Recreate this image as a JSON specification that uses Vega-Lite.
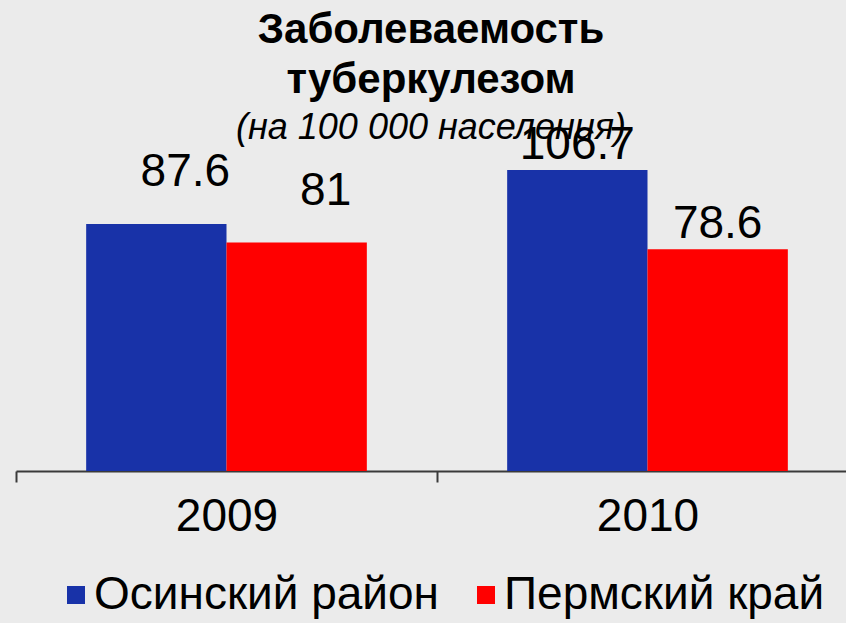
{
  "$schema": "https://vega.github.io/schema/vega-lite/v6.json",
  "width": 830,
  "height": 321,
  "autosize": "none",
  "padding": {"left": 16, "top": 150, "right": 0, "bottom": 152},
  "background": "#ebebeb",
  "title": {
    "text": ["Заболеваемость", "туберкулезом"],
    "subtitle": "(на 100 000 населения)",
    "anchor": "middle",
    "offset": -25,
    "font": "Liberation Sans",
    "fontSize": 42,
    "fontWeight": "bold",
    "lineHeight": 50,
    "color": "#000000",
    "subtitleFont": "Liberation Sans",
    "subtitleFontSize": 36,
    "subtitleFontStyle": "italic",
    "subtitleColor": "#000000",
    "subtitlePadding": 9
  },
  "config": {
    "view": {"stroke": null},
    "font": "Liberation Sans"
  },
  "data": {
    "values": [
      {"year": "2009", "series": "Осинский район", "value": 87.6},
      {"year": "2009", "series": "Пермский край", "value": 81},
      {"year": "2010", "series": "Осинский район", "value": 106.7},
      {"year": "2010", "series": "Пермский край", "value": 78.6}
    ]
  },
  "encoding": {
    "x": {
      "field": "year",
      "type": "nominal",
      "scale": {"range": [0, 842], "paddingInner": 0, "paddingOuter": 0},
      "axis": {
        "title": null,
        "labelAngle": 0,
        "labelFont": "Liberation Sans",
        "labelFontSize": 46,
        "labelColor": "#000000",
        "labelBaseline": "alphabetic",
        "labelPadding": 48,
        "tickBand": "extent",
        "tickSize": 11,
        "tickWidth": 2,
        "tickColor": "#3a3a3a",
        "domainWidth": 2,
        "domainColor": "#3a3a3a"
      }
    },
    "xOffset": {
      "field": "series",
      "type": "nominal",
      "sort": ["Осинский район", "Пермский край"],
      "scale": {"paddingInner": 0, "paddingOuter": 0.5}
    },
    "y": {
      "field": "value",
      "type": "quantitative",
      "scale": {"domain": [0, 113.8], "nice": false},
      "axis": null
    }
  },
  "layer": [
    {
      "mark": {"type": "bar", "clip": false},
      "encoding": {
        "color": {
          "field": "series",
          "type": "nominal",
          "sort": ["Осинский район", "Пермский край"],
          "scale": {"domain": ["Осинский район", "Пермский край"], "range": ["#1832a8", "#ff0000"]},
          "legend": {
            "title": null,
            "orient": "none",
            "direction": "horizontal",
            "legendX": 37,
            "legendY": 422,
            "symbolType": "square",
            "symbolSize": 324,
            "symbolStrokeWidth": 0,
            "labelFont": "Liberation Sans",
            "labelFontSize": 46,
            "labelColor": "#000000",
            "labelOffset": -5,
            "labelLimit": 600,
            "columnPadding": 23
          }
        }
      }
    },
    {
      "transform": [{"filter": "datum.year == '2009'"}],
      "mark": {"type": "text", "font": "Liberation Sans", "fontSize": 46, "color": "#000000", "baseline": "alphabetic", "dx": 29, "dy": -38},
      "encoding": {"text": {"field": "value", "type": "quantitative"}}
    },
    {
      "transform": [{"filter": "datum.year == '2010'"}],
      "mark": {"type": "text", "font": "Liberation Sans", "fontSize": 46, "color": "#000000", "baseline": "alphabetic", "dx": 0, "dy": -11},
      "encoding": {"text": {"field": "value", "type": "quantitative"}}
    }
  ]
}
